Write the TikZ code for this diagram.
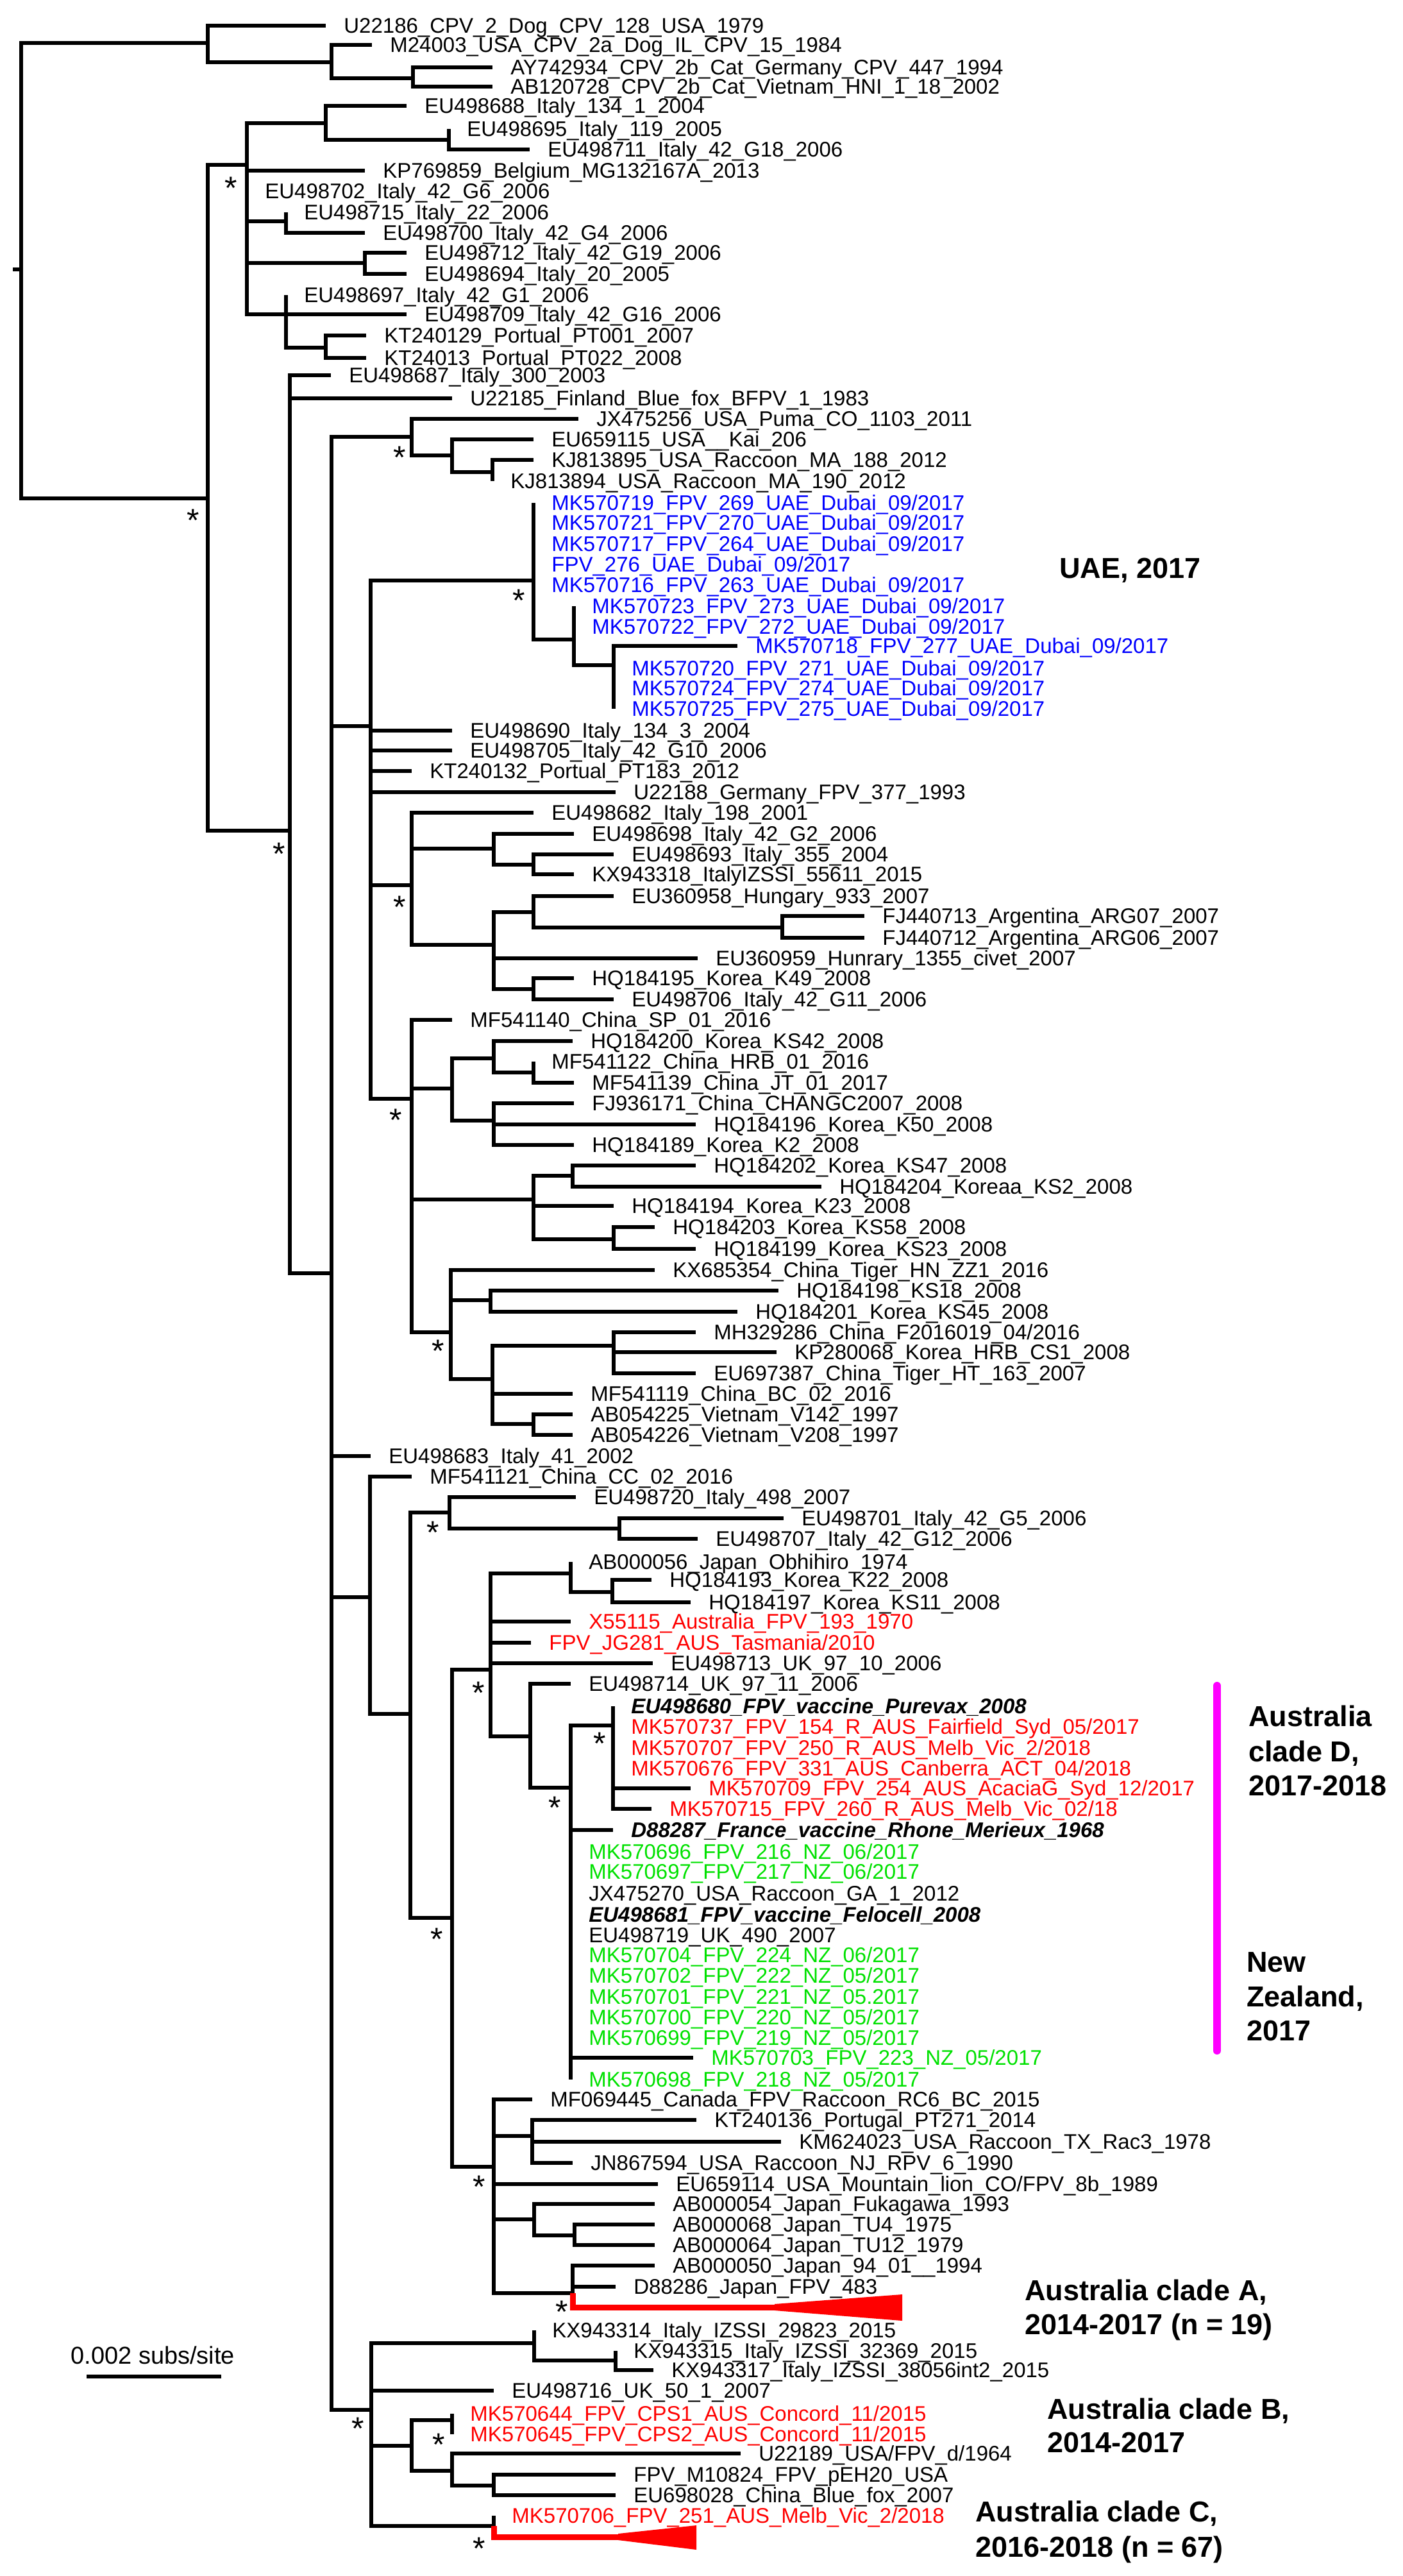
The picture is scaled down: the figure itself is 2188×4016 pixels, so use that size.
\documentclass[tikz,border=0pt]{standalone}
\usepackage{fontspec}
\setmainfont{Liberation Sans}
\definecolor{ublue}{RGB}{0,0,255}
\definecolor{ured}{RGB}{255,0,0}
\definecolor{ugreen}{RGB}{0,225,0}
\definecolor{umag}{RGB}{255,0,255}
\newcommand\LF[6]{\coordinate (#1) at (#3,#4);\draw[br] (#2) |- (#1);\node[lab,#5] (#1t) at (#3+28,#4) {#6};}
\newcommand\ND[4]{\coordinate (#1) at (#3,#4);\draw[br] (#2) |- (#1);}
\newcommand\ST[3]{\node[ast] (#1) at (#2,#3) {\raisebox{-0.575em}{*}};}
\begin{document}
\begin{tikzpicture}[x=0.5pt,y=-0.5pt,
  br/.style={line width=2.75pt},
  rbr/.style={line width=4.5pt,draw=ured},
  lab/.style={font=\fontsize{16.5pt}{19pt}\selectfont,inner sep=0pt,anchor=west,text height=11.8pt,text depth=0pt},
  biglab/.style={font=\fontsize{22.5pt}{27pt}\selectfont\bfseries,inner sep=0pt,anchor=west,text height=16.1pt,text depth=0pt},
  ast/.style={font=\fontsize{25pt}{30pt}\selectfont,inner sep=0pt,anchor=center,text height=3.6pt,text depth=3.6pt},
  ub/.style={text=ublue}, ur/.style={text=ured}, ug/.style={text=ugreen},
  bi/.style={font=\fontsize{16.5pt}{19pt}\selectfont\bfseries\itshape},
  mag/.style={draw=umag,line width=6pt,line cap=round}]
\useasboundingbox (0,0) rectangle (2188,4016);
\fill[white] (0,0) rectangle (2188,4016);
% root
\coordinate (r0) at (20,420);
\coordinate (r) at (33,420);
\draw[br] (r0) -- (r);
\ND{cpv}{r}{324}{67}
\LF{l1}{cpv}{508}{40}{}{U22186\_CPV\_2\_Dog\_CPV\_128\_USA\_1979}
\ND{cpv2}{cpv}{517}{97}
\LF{l2}{cpv2}{580}{70}{}{M24003\_USA\_CPV\_2a\_Dog\_IL\_CPV\_15\_1984}
\ND{cpv3}{cpv2}{644}{122}
\LF{l3}{cpv3}{768}{105}{}{AY742934\_CPV\_2b\_Cat\_Germany\_CPV\_447\_1994}
\LF{l4}{cpv3}{768}{135}{}{AB120728\_CPV\_2b\_Cat\_Vietnam\_HNI\_1\_18\_2002}
% FPV
\ND{f}{r}{324}{777}
\ST{s2}{301}{800}
\ND{it}{f}{385}{257}
\ST{s1}{360}{282}
\ND{it1}{it}{508}{192}
\LF{l5}{it1}{634}{165}{}{EU498688\_Italy\_134\_1\_2004}
\ND{it2}{it1}{700}{218}
\LF{l6}{it2}{700}{201}{}{EU498695\_Italy\_119\_2005}
\LF{l7}{it2}{826}{233}{}{EU498711\_Italy\_42\_G18\_2006}
\LF{l8}{it}{569}{266}{}{KP769859\_Belgium\_MG132167A\_2013}
\LF{l9}{it}{385}{298}{}{EU498702\_Italy\_42\_G6\_2006}
\ND{it3}{it}{446}{345}
\LF{l10}{it3}{446}{331}{}{EU498715\_Italy\_22\_2006}
\LF{l11}{it3}{569}{363}{}{EU498700\_Italy\_42\_G4\_2006}
\ND{it4}{it}{569}{410}
\LF{l12}{it4}{634}{394}{}{EU498712\_Italy\_42\_G19\_2006}
\LF{l13}{it4}{634}{427}{}{EU498694\_Italy\_20\_2005}
\ND{it5}{it}{446}{490}
\LF{l14}{it5}{446}{460}{}{EU498697\_Italy\_42\_G1\_2006}
\LF{l15}{it5}{634}{490}{}{EU498709\_Italy\_42\_G16\_2006}
\ND{it6}{it5}{508}{542}
\LF{l16}{it6}{571}{523}{}{KT240129\_Portual\_PT001\_2007}
\LF{l17}{it6}{571}{558}{}{KT24013\_Portual\_PT022\_2008}
% main FPV
\ND{n452}{f}{452}{1295}
\ST{s5}{435}{1320}
\LF{l18}{n452}{516}{585}{}{EU498687\_Italy\_300\_2003}
\LF{l19}{n452}{705}{621}{}{U22185\_Finland\_Blue\_fox\_BFPV\_1\_1983}
\ND{n517}{n452}{517}{1985}
\ND{jx}{n517}{642}{681}
\ST{s3}{623}{702}
\LF{l20}{jx}{902}{653}{}{JX475256\_USA\_Puma\_CO\_1103\_2011}
\ND{jx2}{jx}{705}{710}
\LF{l21}{jx2}{832}{685}{}{EU659115\_USA\_\_Kai\_206}
\ND{jx3}{jx2}{768}{736}
\LF{l22}{jx3}{832}{717}{}{KJ813895\_USA\_Raccoon\_MA\_188\_2012}
\LF{l23}{jx3}{768}{750}{}{KJ813894\_USA\_Raccoon\_MA\_190\_2012}
\ND{n578}{n517}{578}{1132}
\ND{uae}{n578}{832}{905}
\ST{s4}{809}{925}
\LF{l24}{uae}{832}{784}{ub}{MK570719\_FPV\_269\_UAE\_Dubai\_09/2017}
\LF{l25}{uae}{832}{815}{ub}{MK570721\_FPV\_270\_UAE\_Dubai\_09/2017}
\LF{l26}{uae}{832}{848}{ub}{MK570717\_FPV\_264\_UAE\_Dubai\_09/2017}
\LF{l27}{uae}{832}{880}{ub}{FPV\_276\_UAE\_Dubai\_09/2017}
\LF{l28}{uae}{832}{912}{ub}{MK570716\_FPV\_263\_UAE\_Dubai\_09/2017}
\ND{uae2}{uae}{895}{997}
\LF{l29}{uae2}{895}{945}{ub}{MK570723\_FPV\_273\_UAE\_Dubai\_09/2017}
\LF{l30}{uae2}{895}{977}{ub}{MK570722\_FPV\_272\_UAE\_Dubai\_09/2017}
\ND{uae3}{uae2}{957}{1037}
\LF{l31}{uae3}{1150}{1007}{ub}{MK570718\_FPV\_277\_UAE\_Dubai\_09/2017}
\LF{l32}{uae3}{957}{1042}{ub}{MK570720\_FPV\_271\_UAE\_Dubai\_09/2017}
\LF{l33}{uae3}{957}{1073}{ub}{MK570724\_FPV\_274\_UAE\_Dubai\_09/2017}
\LF{l34}{uae3}{957}{1105}{ub}{MK570725\_FPV\_275\_UAE\_Dubai\_09/2017}
\LF{l35}{n578}{705}{1139}{}{EU498690\_Italy\_134\_3\_2004}
\LF{l36}{n578}{705}{1170}{}{EU498705\_Italy\_42\_G10\_2006}
\LF{l37}{n578}{642}{1202}{}{KT240132\_Portual\_PT183\_2012}
\LF{l38}{n578}{960}{1235}{}{U22188\_Germany\_FPV\_377\_1993}
\ND{hu}{n578}{642}{1380}
\ST{s6}{623}{1403}
\LF{l39}{hu}{832}{1267}{}{EU498682\_Italy\_198\_2001}
\ND{hu1}{hu}{770}{1323}
\LF{l40}{hu1}{895}{1300}{}{EU498698\_Italy\_42\_G2\_2006}
\ND{hu2}{hu1}{832}{1348}
\LF{l41}{hu2}{957}{1332}{}{EU498693\_Italy\_355\_2004}
\LF{l42}{hu2}{895}{1363}{}{KX943318\_ItalyIZSSI\_55611\_2015}
\ND{hu3}{hu}{770}{1473}
\ND{hu4}{hu3}{832}{1422}
\LF{l43}{hu4}{957}{1397}{}{EU360958\_Hungary\_933\_2007}
\ND{hu5}{hu4}{1220}{1446}
\LF{l44}{hu5}{1348}{1428}{}{FJ440713\_Argentina\_ARG07\_2007}
\LF{l45}{hu5}{1348}{1462}{}{FJ440712\_Argentina\_ARG06\_2007}
\LF{l46}{hu3}{1088}{1494}{}{EU360959\_Hunrary\_1355\_civet\_2007}
\ND{hu6}{hu3}{832}{1542}
\LF{l47}{hu6}{895}{1525}{}{HQ184195\_Korea\_K49\_2008}
\LF{l48}{hu6}{957}{1558}{}{EU498706\_Italy\_42\_G11\_2006}
\ND{ch}{n578}{642}{1713}
\ST{s7}{617}{1735}
\LF{l49}{ch}{705}{1590}{}{MF541140\_China\_SP\_01\_2016}
\ND{ch1}{ch}{705}{1697}
\ND{ch2}{ch1}{770}{1650}
\LF{l50}{ch2}{893}{1623}{}{HQ184200\_Korea\_KS42\_2008}
\ND{ch3}{ch2}{832}{1672}
\LF{l51}{ch3}{832}{1655}{}{MF541122\_China\_HRB\_01\_2016}
\LF{l52}{ch3}{895}{1688}{}{MF541139\_China\_JT\_01\_2017}
\ND{ch4}{ch1}{770}{1747}
\LF{l53}{ch4}{895}{1720}{}{FJ936171\_China\_CHANGC2007\_2008}
\LF{l54}{ch4}{1085}{1753}{}{HQ184196\_Korea\_K50\_2008}
\LF{l55}{ch4}{895}{1785}{}{HQ184189\_Korea\_K2\_2008}
\ND{ko}{ch}{832}{1870}
\ND{ko1}{ko}{893}{1833}
\LF{l56}{ko1}{1085}{1817}{}{HQ184202\_Korea\_KS47\_2008}
\LF{l57}{ko1}{1281}{1850}{}{HQ184204\_Koreaa\_KS2\_2008}
\LF{l58}{ko}{957}{1880}{}{HQ184194\_Korea\_K23\_2008}
\ND{ko2}{ko}{957}{1932}
\LF{l59}{ko2}{1021}{1913}{}{HQ184203\_Korea\_KS58\_2008}
\LF{l60}{ko2}{1085}{1947}{}{HQ184199\_Korea\_KS23\_2008}
\ND{ti}{ch}{703}{2077}
\ST{s8}{683}{2095}
\LF{l61}{ti}{1021}{1980}{}{KX685354\_China\_Tiger\_HN\_ZZ1\_2016}
\ND{ti1}{ti}{765}{2027}
\LF{l62}{ti1}{1214}{2012}{}{HQ184198\_KS18\_2008}
\LF{l63}{ti1}{1150}{2045}{}{HQ184201\_Korea\_KS45\_2008}
\ND{ti2}{ti}{768}{2150}
\ND{ti3}{ti2}{957}{2098}
\LF{l64}{ti3}{1085}{2077}{}{MH329286\_China\_F2016019\_04/2016}
\LF{l65}{ti3}{1211}{2108}{}{KP280068\_Korea\_HRB\_CS1\_2008}
\LF{l66}{ti3}{1085}{2141}{}{EU697387\_China\_Tiger\_HT\_163\_2007}
\LF{l67}{ti2}{893}{2173}{}{MF541119\_China\_BC\_02\_2016}
\ND{ti4}{ti2}{832}{2220}
\LF{l68}{ti4}{893}{2205}{}{AB054225\_Vietnam\_V142\_1997}
\LF{l69}{ti4}{893}{2237}{}{AB054226\_Vietnam\_V208\_1997}
\LF{l70}{n517}{578}{2270}{}{EU498683\_Italy\_41\_2002}
\ND{n577}{n517}{577}{2490}
\LF{l71}{n577}{642}{2302}{}{MF541121\_China\_CC\_02\_2016}
\ND{n639}{n577}{640}{2672}
\ND{it7}{n639}{701}{2358}
\ST{s9}{675}{2378}
\LF{l72}{it7}{898}{2334}{}{EU498720\_Italy\_498\_2007}
\ND{it8}{it7}{966}{2383}
\LF{l73}{it8}{1222}{2367}{}{EU498701\_Italy\_42\_G5\_2006}
\LF{l74}{it8}{1088}{2399}{}{EU498707\_Italy\_42\_G12\_2006}
\ND{n705}{n639}{705}{2990}
\ST{s13}{681}{3012}
\ND{n765}{n705}{765}{2603}
\ST{s10}{746}{2628}
\ND{jp}{n765}{890}{2453}
\LF{l75}{jp}{890}{2435}{}{AB000056\_Japan\_Obhihiro\_1974}
\ND{jp1}{jp}{955}{2482}
\LF{l76}{jp1}{1016}{2463}{}{HQ184193\_Korea\_K22\_2008}
\LF{l77}{jp1}{1077}{2498}{}{HQ184197\_Korea\_KS11\_2008}
\LF{l78}{n765}{890}{2528}{ur}{X55115\_Australia\_FPV\_193\_1970}
\LF{l79}{n765}{828}{2561}{ur}{FPV\_JG281\_AUS\_Tasmania/2010}
\LF{l80}{n765}{1018}{2593}{}{EU498713\_UK\_97\_10\_2006}
\ND{n827}{n765}{827}{2707}
\LF{l81}{n827}{890}{2625}{}{EU498714\_UK\_97\_11\_2006}
\ND{n890}{n827}{890}{2787}
\ST{s12}{865}{2807}
\ND{d}{n890}{956}{2690}
\ST{s11}{935}{2707}
\LF{l82}{d}{956}{2660}{bi}{EU498680\_FPV\_vaccine\_Purevax\_2008}
\LF{l83}{d}{956}{2692}{ur}{MK570737\_FPV\_154\_R\_AUS\_Fairfield\_Syd\_05/2017}
\LF{l84}{d}{956}{2725}{ur}{MK570707\_FPV\_250\_R\_AUS\_Melb\_Vic\_2/2018}
\LF{l85}{d}{956}{2757}{ur}{MK570676\_FPV\_331\_AUS\_Canberra\_ACT\_04/2018}
\LF{l86}{d}{1077}{2788}{ur}{MK570709\_FPV\_254\_AUS\_AcaciaG\_Syd\_12/2017}
\LF{l87}{d}{1016}{2820}{ur}{MK570715\_FPV\_260\_R\_AUS\_Melb\_Vic\_02/18}
\LF{l88}{n890}{956}{2853}{bi}{D88287\_France\_vaccine\_Rhone\_Merieux\_1968}
\LF{l89}{n890}{890}{2887}{ug}{MK570696\_FPV\_216\_NZ\_06/2017}
\LF{l90}{n890}{890}{2918}{ug}{MK570697\_FPV\_217\_NZ\_06/2017}
\LF{l91}{n890}{890}{2952}{}{JX475270\_USA\_Raccoon\_GA\_1\_2012}
\LF{l92}{n890}{890}{2985}{bi}{EU498681\_FPV\_vaccine\_Felocell\_2008}
\LF{l93}{n890}{890}{3017}{}{EU498719\_UK\_490\_2007}
\LF{l94}{n890}{890}{3048}{ug}{MK570704\_FPV\_224\_NZ\_06/2017}
\LF{l95}{n890}{890}{3080}{ug}{MK570702\_FPV\_222\_NZ\_05/2017}
\LF{l96}{n890}{890}{3113}{ug}{MK570701\_FPV\_221\_NZ\_05.2017}
\LF{l97}{n890}{890}{3145}{ug}{MK570700\_FPV\_220\_NZ\_05/2017}
\LF{l98}{n890}{890}{3177}{ug}{MK570699\_FPV\_219\_NZ\_05/2017}
\LF{l99}{n890}{1081}{3208}{ug}{MK570703\_FPV\_223\_NZ\_05/2017}
\LF{l100}{n890}{890}{3242}{ug}{MK570698\_FPV\_218\_NZ\_05/2017}
\ND{n770}{n705}{770}{3378}
\ST{s14}{747}{3398}
\LF{l101}{n770}{830}{3273}{}{MF069445\_Canada\_FPV\_Raccoon\_RC6\_BC\_2015}
\ND{pt}{n770}{830}{3330}
\LF{l102}{pt}{1086}{3305}{}{KT240136\_Portugal\_PT271\_2014}
\LF{l103}{pt}{1218}{3339}{}{KM624023\_USA\_Raccoon\_TX\_Rac3\_1978}
\LF{l104}{pt}{893}{3372}{}{JN867594\_USA\_Raccoon\_NJ\_RPV\_6\_1990}
\LF{l105}{n770}{1026}{3405}{}{EU659114\_USA\_Mountain\_lion\_CO/FPV\_8b\_1989}
\ND{jp2}{n770}{833}{3460}
\LF{l106}{jp2}{1021}{3436}{}{AB000054\_Japan\_Fukagawa\_1993}
\ND{jp3}{jp2}{896}{3485}
\LF{l107}{jp3}{1021}{3468}{}{AB000068\_Japan\_TU4\_1975}
\LF{l108}{jp3}{1021}{3500}{}{AB000064\_Japan\_TU12\_1979}
\ND{ca}{n770}{893}{3575}
\ST{s15}{876}{3593}
\LF{l109}{ca}{1021}{3532}{}{AB000050\_Japan\_94\_01\_\_1994}
\LF{l110}{ca}{960}{3565}{}{D88286\_Japan\_FPV\_483}
\coordinate (cA) at (1214,3597);
\draw[rbr] (ca) |- (cA);
\fill[ured] (1208,3592) -- (1407,3577) -- (1407,3618) -- (1208,3602) -- cycle;
% lower clades
\ND{n579}{n517}{579}{3757}
\ST{s16}{558}{3775}
\ND{kx}{n579}{833}{3653}
\LF{l111}{kx}{833}{3633}{}{KX943314\_Italy\_IZSSI\_29823\_2015}
\ND{kx1}{kx}{960}{3680}
\LF{l112}{kx1}{960}{3665}{}{KX943315\_Italy\_IZSSI\_32369\_2015}
\LF{l113}{kx1}{1019}{3695}{}{KX943317\_Italy\_IZSSI\_38056int2\_2015}
\LF{l114}{n579}{770}{3727}{}{EU498716\_UK\_50\_1\_2007}
\ND{b}{n579}{642}{3813}
\ND{b1}{b}{705}{3773}
\ST{s17}{684}{3800}
\LF{l115}{b1}{705}{3763}{ur}{MK570644\_FPV\_CPS1\_AUS\_Concord\_11/2015}
\LF{l116}{b1}{705}{3795}{ur}{MK570645\_FPV\_CPS2\_AUS\_Concord\_11/2015}
\ND{b2}{b}{705}{3852}
\LF{l117}{b2}{1155}{3825}{}{U22189\_USA/FPV\_d/1964}
\ND{b3}{b2}{770}{3875}
\LF{l118}{b3}{960}{3858}{}{FPV\_M10824\_FPV\_pEH20\_USA}
\LF{l119}{b3}{960}{3890}{}{EU698028\_China\_Blue\_fox\_2007}
\ND{c}{n579}{770}{3938}
\ST{s18}{747}{3962}
\LF{l120}{c}{770}{3922}{ur}{MK570706\_FPV\_251\_AUS\_Melb\_Vic\_2/2018}
\coordinate (cC) at (970,3955);
\draw[rbr] (c) |- (cC);
\fill[ured] (964,3950) -- (1086,3937) -- (1086,3975) -- (964,3960) -- cycle;
% scale bar
\node[lab,font=\fontsize{19pt}{22pt}\selectfont,text height=13.6pt] (sct) at (110,3672) {0.002 subs/site};
\coordinate (sb1) at (135,3705);
\coordinate (sb2) at (345,3705);
\draw[br] (sb1) -- (sb2);
% magenta bar
\coordinate (m1) at (1898,2628);
\coordinate (m2) at (1898,3197);
\draw[mag] (m1) -- (m2);
% clade labels
\node[biglab] (tuae) at (1652,885) {UAE, 2017};
\node[biglab] (td1) at (1947,2675) {Australia};
\node[biglab] (td2) at (1947,2730) {clade D,};
\node[biglab] (td3) at (1947,2783) {2017-2018};
\node[biglab] (tn1) at (1944,3058) {New};
\node[biglab] (tn2) at (1944,3112) {Zealand,};
\node[biglab] (tn3) at (1944,3165) {2017};
\node[biglab] (ta1) at (1598,3570) {Australia clade A,};
\node[biglab] (ta2) at (1598,3623) {2014-2017 (n = 19)};
\node[biglab] (tb1) at (1633,3755) {Australia clade B,};
\node[biglab] (tb2) at (1633,3807) {2014-2017};
\node[biglab] (tc1) at (1521,3915) {Australia clade C,};
\node[biglab] (tc2) at (1521,3970) {2016-2018 (n = 67)};
\end{tikzpicture}
\end{document}
